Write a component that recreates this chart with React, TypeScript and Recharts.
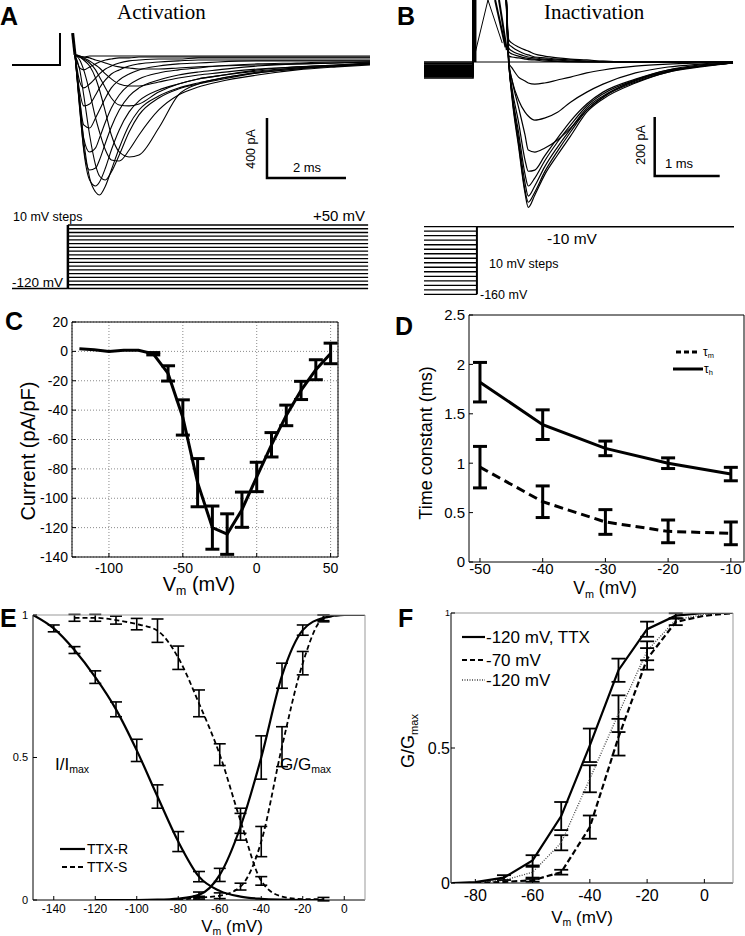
import React from "react";
import { LineChart, Line, XAxis, YAxis, CartesianGrid, ErrorBar } from "recharts";

const SANS = '"Liberation Sans", Arial, Helvetica, sans-serif';
const SERIF = '"Liberation Serif", "Times New Roman", Times, serif';

// ---------- A: activation currents (t in ms, I in pA) ----------
const A_TIME = [0.38, 0.5, 0.6, 0.75, 0.9, 1.0, 1.15, 1.3, 1.5, 1.75, 2.0, 2.5, 3.0, 3.5, 4.0, 5.0, 6.0, 7.0, 7.85];
const A_P1 = [47, -253, -520, -773, -867, -887, -827, -720, -573, -420, -320, -227, -173, -140, -113, -67, -40, -27, -13];
const A_P2 = [47, -307, -587, -787, -827, -800, -707, -587, -453, -333, -260, -187, -147, -113, -93, -53, -33, -20, -7];
const A_P3 = [47, -320, -573, -720, -707, -653, -540, -433, -320, -227, -173, -120, -87, -67, -53, -27, -13, -7, 0];
const A_P4 = [47, -287, -507, -600, -573, -507, -400, -307, -220, -153, -113, -73, -53, -40, -27, -13, -7, 0, 0];
const A_P5 = [47, -253, -420, -440, -373, -320, -240, -173, -120, -80, -53, -27, -13, -7, 0, 7, 7, 7, 7];
const A_P6 = [47, -200, -293, -280, -220, -173, -120, -80, -53, -27, -13, 0, 7, 13, 13, 13, 13, 13, 13];
const A_P7 = [47, -133, -173, -147, -107, -80, -47, -27, -7, 7, 13, 20, 20, 27, 27, 27, 27, 27, 27];
const A_P8 = [47, -40, -53, -33, -13, 0, 13, 20, 27, 27, 33, 33, 33, 33, 33, 33, 33, 33, 33];
const A_P9 = [47, 33, 33, 40, 40, 40, 40, 40, 40, 40, 40, 40, 40, 40, 40, 40, 40, 40, 40];
const A_N1 = [47, -53, -220, -487, -687, -760, -787, -733, -620, -467, -353, -240, -180, -147, -120, -73, -47, -27, -13];
const A_N2 = [47, 13, -53, -200, -373, -467, -587, -653, -660, -587, -487, -320, -220, -167, -133, -87, -53, -33, -20];
const A_N3 = [47, 33, 13, -27, -107, -187, -333, -487, -600, -633, -620, -440, -220, -147, -113, -73, -47, -27, -13];
const A_N4 = [47, 33, 20, -7, -53, -100, -173, -240, -287, -293, -280, -200, -147, -113, -93, -60, -40, -27, -13];
const A_N5 = [47, 40, 27, 7, -20, -40, -80, -113, -147, -160, -160, -133, -107, -87, -73, -47, -33, -20, -7];
const A_N6 = [47, 40, 33, 27, 13, 7, -7, -20, -33, -40, -47, -47, -40, -33, -27, -20, -13, -7, 0];
const A_TRACES = [A_P1, A_P2, A_P3, A_P4, A_P5, A_P6, A_P7, A_P8, A_P9, A_N1, A_N2, A_N3, A_N4, A_N5, A_N6];
const A_HOLD_T = [-1.22, 0, 0];
const A_HOLD_I = [-20, -20, 193];
const A_ART_T = [0.32, 0.38];
const A_ART_I = [193, 47];
const A_BAR_T = [5.24, 5.24, 7.24];
const A_BAR_I = [-373, -773, -773];

// A: voltage protocol (mV)
const A_STEPS = [-120, -110, -100, -90, -80, -70, -60, -50, -40, -30, -20, -10, 0, 10, 20, 30, 40, 50];
const A_PRE_T = [-1.22, 0.2];
const A_STEP_T = [0.2, 7.8];

// ---------- B: inactivation currents ----------
const B_TIME = [0.5, 0.55, 0.6, 0.7, 0.8, 0.85, 0.95, 1.1, 1.3, 1.5, 1.75, 2.0, 2.5, 3.0, 3.5, 4.0];
const B_D8 = [300, 7, -122, -285, -444, -492, -451, -383, -315, -251, -170, -125, -71, -34, -17, -3];
const B_D7 = [300, 3, -115, -275, -434, -475, -441, -373, -302, -237, -163, -119, -68, -34, -14, -3];
const B_D6 = [300, 3, -108, -258, -410, -454, -420, -356, -288, -227, -156, -115, -64, -31, -14, -3];
const B_D5 = [300, 3, -102, -237, -380, -420, -393, -336, -271, -214, -149, -108, -61, -31, -14, -3];
const B_D4 = [300, 3, -88, -203, -332, -370, -366, -319, -258, -200, -142, -102, -58, -27, -14, -3];
const B_D3 = [300, 3, -61, -153, -247, -298, -305, -292, -264, -224, -163, -119, -61, -27, -10, -3];
const B_D2 = [300, -7, -61, -129, -170, -183, -197, -190, -170, -136, -102, -75, -37, -17, -7, 0];
const B_D1 = [300, -3, -20, -51, -64, -71, -75, -71, -61, -51, -37, -27, -14, -7, -3, 0];
const B_U1 = [300, 75, 64, 51, 41, 37, 27, 20, 14, 10, 7, 3, 0, 0, 0, 0];
const B_U2 = [300, 61, 51, 37, 27, 24, 17, 14, 10, 7, 3, 2, 0, 0, 0, 0];
const B_U3 = [300, 47, 37, 27, 20, 17, 14, 10, 7, 3, 2, 0, 0, 0, 0, 0];
const B_U4 = [300, 34, 27, 20, 14, 12, 10, 7, 3, 2, 0, 0, 0, 0, 0, 0];
const B_U5 = [300, 20, 17, 14, 10, 8, 7, 3, 2, 0, 0, 0, 0, 0, 0, 0];
const B_TRACES = [B_D8, B_D7, B_D6, B_D5, B_D4, B_D3, B_D2, B_D1, B_U1, B_U2, B_U3, B_U4, B_U5];
const B_HOLD = [0, -4, -7, -11, -14, -18, -21, -25, -28, -32, -35, -39, -42, -46, -50, -54];
const B_TRI_T = [0, 0.23, 0.45];
const B_TRI_I = [0, 210, 64];
const B_CAP_ON_T = [0.03, 0.03];
const B_CAP_ON_I = [0, 300];
const B_CAP_OFF1_T = [0.34, 0.5];
const B_CAP_OFF1_I = [210, 50];
const B_CAP_OFF2_T = [0.4, 0.52];
const B_CAP_OFF2_I = [210, 40];
const B_ZERO_T = [0, 4.0];
const B_BAR_T = [2.795, 2.795, 3.795];
const B_BAR_I = [-186, -386, -386];

// B: voltage protocol (mV)
const B_STEPS = [-10, -20, -30, -40, -50, -60, -70, -80, -90, -100, -110, -120, -130, -140, -150, -160];
const B_PRE_T = [-0.754, 0.06];
const B_TEST_T = [0.06, 4.015];

// ---------- C: I-V ----------
const C_V = [-120, -110, -100, -90, -80, -70, -60, -50, -40, -30, -20, -10, 0, 10, 20, 30, 40, 50];
const C_I = [1.8, 1.1, 0, 0.7, 0.7, -1.6, -15, -45, -89.4, -120, -124.4, -107.8, -85.5, -63.6, -43.6, -26.6, -12.5, -1.4];
const C_E = [0, 0, 0, 0, 0, 0.8, 5.2, 12, 16.4, 14.7, 13.8, 12, 10, 8.3, 7, 6.2, 6.8, 7];

// ---------- D: time constants ----------
const D_V = [-50, -40, -30, -20, -10];
const D_TAU_H = [1.82, 1.39, 1.15, 1.0, 0.89];
const D_TAU_H_E = [0.2, 0.15, 0.074, 0.054, 0.068];
const D_TAU_M = [0.96, 0.61, 0.405, 0.31, 0.29];
const D_TAU_M_E = [0.21, 0.16, 0.125, 0.115, 0.115];

// ---------- E: steady-state curves ----------
const E_RI_V = [-150, -140, -130, -120, -110, -100, -90, -80, -70, -60, -50, -40, -30, -20, -10];
const E_RI_Y = [1.0, 0.953, 0.877, 0.782, 0.669, 0.525, 0.363, 0.205, 0.082, 0.032, 0.012, 0.004, 0.001, 0, 0];
const E_RI_E = [0, 0.012, 0.012, 0.022, 0.026, 0.039, 0.041, 0.035, 0.018, 0, 0, 0, 0, 0, 0];
const E_SI_V = [-130, -120, -110, -100, -90, -80, -70, -60, -50, -40, -30, -20, -10];
const E_SI_Y = [0.99, 0.99, 0.982, 0.968, 0.945, 0.85, 0.69, 0.51, 0.278, 0.067, 0.012, 0.003, 0.003];
const E_SI_E = [0.012, 0.012, 0.014, 0.02, 0.041, 0.041, 0.047, 0.038, 0.044, 0.015, 0, 0, 0.006];
const E_RA_V = [-120, -110, -100, -90, -80, -70, -60, -50, -40, -30, -20, -10, 0, 10];
const E_RA_Y = [0, 0, 0, 0.001, 0.005, 0.018, 0.088, 0.257, 0.5, 0.787, 0.947, 0.99, 1, 1];
const E_RA_E = [0, 0, 0, 0, 0, 0.01, 0.023, 0.047, 0.076, 0.044, 0.018, 0.01, 0, 0];
const E_SA_V = [-80, -70, -60, -50, -40, -30, -20, -10, 0, 10];
const E_SA_Y = [0, 0.008, 0.015, 0.047, 0.205, 0.538, 0.831, 0.988, 1, 1];
const E_SA_E = [0, 0.005, 0.01, 0.012, 0.053, 0.07, 0.041, 0.012, 0, 0];

// ---------- F: activation at different holding ----------
const F_TTX_V = [-88, -80, -70, -60, -50, -40, -30, -20, -10, 0, 10];
const F_TTX_Y = [0, 0.003, 0.02, 0.084, 0.248, 0.51, 0.788, 0.94, 0.99, 1, 1];
const F_TTX_E = [0, 0, 0.009, 0.019, 0.052, 0.062, 0.043, 0.028, 0.009, 0, 0];
const F_70_V = [-80, -70, -60, -50, -40, -30, -20, -10, 0, 10];
const F_70_Y = [0, 0.004, 0.01, 0.04, 0.207, 0.54, 0.83, 0.967, 0.99, 1];
const F_70_E = [0, 0, 0.005, 0.009, 0.043, 0.068, 0.04, 0.012, 0, 0];
const F_120_V = [-88, -80, -70, -60, -50, -40, -30, -20, -10, 0, 10];
const F_120_Y = [0, 0.002, 0.01, 0.04, 0.149, 0.386, 0.627, 0.86, 0.975, 0.995, 1];
const F_120_E = [0, 0, 0, 0.02, 0.028, 0.05, 0.068, 0.035, 0, 0, 0];

const xy = (xs: number[], ys: number[]) => xs.map((x, k) => ({ x, y: ys[k] }));
const xye = (xs: number[], ys: number[], es: number[]) => xs.map((x, k) => ({ x, y: ys[k], e: es[k] }));

const line = (key: string, data: any[], o: any = {}) => (
  <Line
    key={key}
    data={data}
    dataKey="y"
    type={o.type ?? "monotone"}
    stroke={o.color ?? "#000"}
    strokeWidth={o.w ?? 1}
    strokeDasharray={o.dash}
    dot={false}
    activeDot={false}
    isAnimationActive={false}
  />
);

const eline = (key: string, data: any[], o: any = {}) => (
  <Line
    key={key}
    data={data}
    dataKey="y"
    type={o.type ?? "linear"}
    stroke={o.color ?? "#000"}
    strokeWidth={o.w ?? 2}
    strokeDasharray={o.dash}
    dot={false}
    activeDot={false}
    isAnimationActive={false}
  >
    <ErrorBar dataKey="e" width={o.cap ?? 6} strokeWidth={o.ew ?? 1.5} stroke="#000" />
  </Line>
);

// axes with inward ticks and a full box
const frame = (o: any) => [
  <XAxis key="xb" type="number" dataKey="x" domain={o.xDom} ticks={o.xTicks} interval={0} allowDataOverflow
    height={30} stroke="#000" tickSize={-4} tickMargin={o.xMargin}
    tick={{ fontSize: o.xFont, fill: "#000", fontFamily: SANS }} />,
  <XAxis key="xt" xAxisId="top" orientation="top" type="number" domain={o.xDom} ticks={o.xTicks} interval={0}
    allowDataOverflow height={1} stroke={o.box} tickSize={-4} tick={false} />,
  <YAxis key="yl" type="number" domain={o.yDom} ticks={o.yTicks} interval={0} allowDataOverflow
    width={o.yW} stroke="#000" tickSize={-4} tickMargin={o.yMargin}
    tick={o.yTick ?? { fontSize: o.yFont, fill: "#000", fontFamily: SANS }} />,
  <YAxis key="yr" yAxisId="right" orientation="right" type="number" domain={o.yDom} ticks={o.yTicks} interval={0}
    allowDataOverflow width={1} stroke={o.box} tickSize={-4} tick={false} />,
];

function T({ x, y, size, children, anchor = "start", bold = false, serif = false }: any) {
  const shift = anchor === "middle" ? "translateX(-50%)" : anchor === "end" ? "translateX(-100%)" : undefined;
  return (
    <div style={{ position: "absolute", left: x, top: y - size * 0.85, fontSize: size, lineHeight: 1,
      whiteSpace: "nowrap", fontFamily: serif ? SERIF : SANS, fontWeight: bold ? 700 : 400, transform: shift }}>
      {children}
    </div>
  );
}

function VT({ x, y, size, children }: any) {
  return (
    <div style={{ position: "absolute", left: x, top: y, fontSize: size, lineHeight: 1, whiteSpace: "nowrap",
      fontFamily: SANS, transform: "translate(-50%, -50%) rotate(-90deg)" }}>
      {children}
    </div>
  );
}

const Sub = ({ children }: any) => (
  <span style={{ fontSize: "0.62em", position: "relative", top: "0.32em" }}>{children}</span>
);

const fYTick = (p: any) => (
  <text x={p.x} y={p.y} dy="0.35em" textAnchor="end" fontFamily={SANS}
    fontSize={p.payload.value === 1 ? 9 : 16} fill="#000">{p.payload.value}</text>
);

const at = (left: number, top: number) => ({ position: "absolute" as const, left, top });

export default function App() {
  return (
    <div style={{ position: "absolute", left: 0, top: 0, width: 745, height: 936, overflow: "hidden",
      background: "#fff", color: "#000", fontFamily: SANS }}>

      {/* A traces */}
      <div style={at(12, 33)}>
        <LineChart width={358} height={167} margin={{ top: 0, right: 0, bottom: 0, left: 0 }}>
          <XAxis type="number" dataKey="x" domain={[-1.215, 7.848]} hide allowDataOverflow />
          <YAxis type="number" domain={[-920, 193]} hide allowDataOverflow />
          {A_TRACES.map((tr, k) => line(`a${k}`, xy(A_TIME, tr), { w: 1.1 }))}
          {line("ahold", xy(A_HOLD_T, A_HOLD_I), { type: "linear", w: 2 })}
          {line("aart", xy(A_ART_T, A_ART_I), { type: "linear", w: 3 })}
          {line("abar", xy(A_BAR_T, A_BAR_I), { type: "linear", w: 2.5 })}
        </LineChart>
      </div>

      {/* A protocol */}
      <div style={at(12, 220)}>
        <LineChart width={358} height={75} margin={{ top: 0, right: 0, bottom: 0, left: 0 }}>
          <XAxis type="number" dataKey="x" domain={[-1.215, 7.848]} hide allowDataOverflow />
          <YAxis type="number" domain={[-137.4, 63.4]} hide allowDataOverflow />
          {A_STEPS.map((v) => line(`as${v}`, xy(A_STEP_T, [v, v]), { type: "linear", w: 1.3 }))}
          {line("apre", xy(A_PRE_T, [-120, -120]), { type: "linear", w: 1.4 })}
          {line("avert", xy([A_STEP_T[0], A_STEP_T[0]], [-120, 50]), { type: "linear", w: 2.5 })}
        </LineChart>
      </div>

      {/* B traces */}
      <div style={at(424, 0)}>
        <LineChart width={310} height={212} margin={{ top: 0, right: 0, bottom: 0, left: 0 }}>
          <XAxis type="number" dataKey="x" domain={[-0.754, 4.015]} hide allowDataOverflow />
          <YAxis type="number" domain={[-508, 210]} hide allowDataOverflow />
          {line("bzero", xy(B_ZERO_T, [0, 0]), { type: "linear", w: 1 })}
          {B_HOLD.map((h, k) => line(`bh${k}`, xy([-0.754, 0, 0], [h, h, 300]), { type: "linear", w: 1.6 }))}
          {line("bcapon", xy(B_CAP_ON_T, B_CAP_ON_I), { type: "linear", w: 3 })}
          {line("bcapoff1", xy(B_CAP_OFF1_T, B_CAP_OFF1_I), { type: "linear", w: 2 })}
          {line("bcapoff2", xy(B_CAP_OFF2_T, B_CAP_OFF2_I), { type: "linear", w: 2 })}
          {line("btri", xy(B_TRI_T, B_TRI_I), { type: "linear", w: 1 })}
          {B_TRACES.map((tr, k) => line(`b${k}`, xy(B_TIME, tr), { w: 1.2 }))}
          {line("bbar", xy(B_BAR_T, B_BAR_I), { type: "linear", w: 2.5 })}
        </LineChart>
      </div>

      {/* B protocol */}
      <div style={at(424, 222)}>
        <LineChart width={310} height={76} margin={{ top: 0, right: 0, bottom: 0, left: 0 }}>
          <XAxis type="number" dataKey="x" domain={[-0.754, 4.015]} hide allowDataOverflow />
          <YAxis type="number" domain={[-168.2, 0.43]} hide allowDataOverflow />
          {B_STEPS.map((v) => line(`bs${v}`, xy(B_PRE_T, [v, v]), { type: "linear", w: 1.3 }))}
          {line("btest", xy(B_TEST_T, [-10, -10]), { type: "linear", w: 1.4 })}
          {line("bvert", xy([B_PRE_T[1], B_PRE_T[1]], [-160, -10]), { type: "linear", w: 2 })}
        </LineChart>
      </div>

      {/* C */}
      <div style={at(0, 310)}>
        <LineChart width={346} height={277} margin={{ top: 11, right: 7, bottom: 0, left: 0 }}>
          <CartesianGrid stroke="#8a8a8a" strokeDasharray="1 2" />
          {frame({ xDom: [-125, 55], xTicks: [-100, -50, 0, 50], xMargin: 10, xFont: 14,
            yDom: [-140, 20], yTicks: [-140, -120, -100, -80, -60, -40, -20, 0, 20], yW: 72, yMargin: 8, yFont: 14, box: "#000" })}
          {eline("c", xye(C_V, C_I, C_E), { w: 3, cap: 7, ew: 3 })}
        </LineChart>
      </div>

      {/* D */}
      <div style={at(400, 303)}>
        <LineChart width={345} height={289} margin={{ top: 11, right: 0, bottom: 0, left: 0 }}>
          {frame({ xDom: [-51.75, -7.9], xTicks: [-50, -40, -30, -20, -10], xMargin: 5, xFont: 15,
            yDom: [0, 2.5], yTicks: [0, 0.5, 1, 1.5, 2, 2.5], yW: 69, yMargin: 8, yFont: 15, box: "#000" })}
          {eline("dh", xye(D_V, D_TAU_H, D_TAU_H_E), { w: 3, cap: 7, ew: 3 })}
          {eline("dm", xye(D_V, D_TAU_M, D_TAU_M_E), { w: 3, cap: 7, ew: 3, dash: "9 5" })}
        </LineChart>
      </div>

      {/* E */}
      <div style={at(0, 603)}>
        <LineChart width={373} height={327} margin={{ top: 11, right: 7, bottom: 0, left: 0 }}>
          {frame({ xDom: [-150, 10], xTicks: [-140, -120, -100, -80, -60, -40, -20, 0], xMargin: 8, xFont: 12,
            yDom: [0, 1], yTicks: [0, 0.5, 1], yW: 33, yMargin: 9, yFont: 11, box: "#999" })}
          {eline("eri", xye(E_RI_V, E_RI_Y, E_RI_E), { type: "monotone", w: 2.2, cap: 6, ew: 1.6 })}
          {eline("era", xye(E_RA_V, E_RA_Y, E_RA_E), { type: "monotone", w: 2.2, cap: 6, ew: 1.6 })}
          {eline("esi", xye(E_SI_V, E_SI_Y, E_SI_E), { type: "monotone", w: 1.8, cap: 6, ew: 1.6, dash: "5 3" })}
          {eline("esa", xye(E_SA_V, E_SA_Y, E_SA_E), { type: "monotone", w: 1.8, cap: 6, ew: 1.6, dash: "5 3" })}
        </LineChart>
      </div>

      {/* F */}
      <div style={at(400, 601)}>
        <LineChart width={341} height={312} margin={{ top: 11, right: 7, bottom: 0, left: 0 }}>
          {frame({ xDom: [-88.5, 10], xTicks: [-80, -60, -40, -20, 0], xMargin: 11, xFont: 16,
            yDom: [0, 1], yTicks: [0, 0.5, 1], yW: 51, yMargin: 5, yTick: fYTick, box: "#999" })}
          {eline("f120", xye(F_120_V, F_120_Y, F_120_E), { w: 1.3, cap: 7, ew: 1.8, dash: "1 1.5", color: "#444" })}
          {eline("f70", xye(F_70_V, F_70_Y, F_70_E), { w: 2.2, cap: 7, ew: 1.8, dash: "6 3" })}
          {eline("fttx", xye(F_TTX_V, F_TTX_Y, F_TTX_E), { w: 2.2, cap: 7, ew: 1.8 })}
        </LineChart>
      </div>

      {/* legend keys */}
      <svg width={745} height={936} style={{ position: "absolute", left: 0, top: 0, pointerEvents: "none" }}>
        <line x1={676} y1={352} x2={700} y2={352} stroke="#000" strokeWidth={3} strokeDasharray="5 3" />
        <line x1={673} y1={369} x2={703} y2={369} stroke="#000" strokeWidth={3} />
        <line x1={60} y1={849} x2={85} y2={849} stroke="#000" strokeWidth={2.2} />
        <line x1={62} y1={867} x2={85} y2={867} stroke="#000" strokeWidth={2} strokeDasharray="5 3" />
        <line x1={462} y1={637} x2={485} y2={637} stroke="#000" strokeWidth={2.2} />
        <line x1={462} y1={660} x2={485} y2={660} stroke="#000" strokeWidth={2.2} strokeDasharray="5 3" />
        <line x1={462} y1={680} x2={485} y2={680} stroke="#444" strokeWidth={1.3} strokeDasharray="1 1.5" />
      </svg>

      {/* titles and letters */}
      <T x={0} y={25} size={25} bold>A</T>
      <T x={397} y={25} size={25} bold>B</T>
      <T x={5} y={330} size={25} bold>C</T>
      <T x={395} y={335} size={25} bold>D</T>
      <T x={0} y={627} size={25} bold>E</T>
      <T x={398} y={627} size={25} bold>F</T>
      <T x={117} y={20} size={21} serif>Activation</T>
      <T x={544} y={20} size={21} serif>Inactivation</T>

      {/* A annotations */}
      <VT x={251} y={149} size={12.5}>400 pA</VT>
      <T x={307} y={172} size={13} anchor="middle">2 ms</T>
      <T x={13} y={222} size={12.5}>10 mV steps</T>
      <T x={313} y={221} size={15}>+50 mV</T>
      <T x={12} y={287} size={13.5}>-120 mV</T>

      {/* B annotations */}
      <VT x={641} y={145} size={12.5}>200 pA</VT>
      <T x={679} y={168} size={13} anchor="middle">1 ms</T>
      <T x={547} y={244} size={15.5}>-10 mV</T>
      <T x={489} y={269} size={12.5}>10 mV steps</T>
      <T x={480} y={300} size={12.5}>-160 mV</T>

      {/* C labels */}
      <VT x={27.5} y={451} size={20}>Current (pA/pF)</VT>
      <T x={199} y={591} size={20} anchor="middle">V<Sub>m</Sub> (mV)</T>

      {/* D labels */}
      <VT x={425.5} y={443} size={18}>Time constant (ms)</VT>
      <T x={605} y={595} size={17.5} anchor="middle">V<Sub>m</Sub> (mV)</T>
      <T x={703} y={356} size={12}>τ<Sub>m</Sub></T>
      <T x={704} y={373} size={12}>τ<Sub>h</Sub></T>

      {/* E labels */}
      <T x={55} y={770} size={17}>I/I<Sub>max</Sub></T>
      <T x={280} y={770} size={17}>G/G<Sub>max</Sub></T>
      <T x={87} y={854} size={14}>TTX-R</T>
      <T x={87} y={872} size={14}>TTX-S</T>
      <T x={232} y={932} size={17} anchor="middle">V<Sub>m</Sub> (mV)</T>

      {/* F labels */}
      <VT x={408} y={741} size={18}>G/G<Sub>max</Sub></VT>
      <T x={486} y={643} size={17}>-120 mV, TTX</T>
      <T x={486} y={666} size={17}>-70 mV</T>
      <T x={486} y={686} size={17}>-120 mV</T>
      <T x={582} y={923} size={17} anchor="middle">V<Sub>m</Sub> (mV)</T>
    </div>
  );
}
